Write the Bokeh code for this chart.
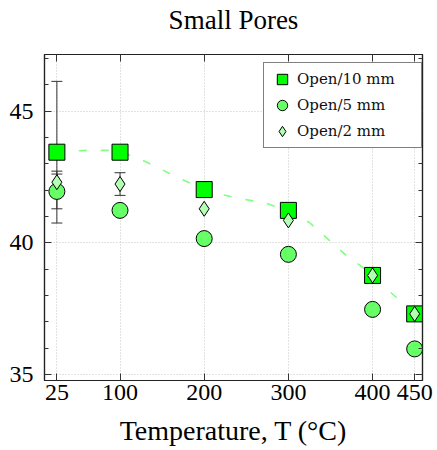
from bokeh.plotting import figure
from bokeh.models import (Range1d, FixedTicker, LinearAxis, Whisker, TeeHead, ColumnDataSource,
                          Legend, LegendItem, CustomJSTickFormatter)
from bokeh.embed import file_html
from bokeh.resources import INLINE

# ---- data ----
temps = [25, 100, 200, 300, 400, 450]
open10 = [43.44, 43.44, 42.02, 41.23, 38.76, 37.30]
open10_err = [2.69, 0, 0, 0, 0, 0]
open5 = [41.95, 41.23, 40.16, 39.56, 37.47, 35.97]
open5_err = [0.66, 0, 0, 0, 0, 0]
open2 = [42.30, 42.23, 41.29, 40.85, 38.76, 37.30]
open2_err = [0.42, 0.43, 0, 0, 0, 0]

# dashed trend curve
trend_T = [25, 60, 91, 117, 142, 166, 189, 218, 246, 273, 300, 325, 348, 368, 391, 412, 433, 450]
trend_y = [43.44, 43.51, 43.51, 43.28, 42.90, 42.52, 42.18, 41.85, 41.66, 41.51, 41.20, 40.77,
           40.11, 39.54, 39.00, 38.38, 37.79, 37.30]

x_ticks = [25, 100, 200, 300, 400, 450]
y_ticks = [35, 40, 45]
y_minor = list(range(35, 48))

series_labels = ["Open/10 mm", "Open/5 mm", "Open/2 mm"]
title_text = "Small Pores"
x_label = "Temperature, T (°C)"

SERIF = "Liberation Serif"

p = figure(width=437, height=450, output_backend="svg", toolbar_location=None,
           x_range=Range1d(10.3, 459.3), y_range=Range1d(34.77, 47.15),
           min_border_left=44, min_border_right=15, min_border_top=54, min_border_bottom=70,
           background_fill_color="white", border_fill_color="white",
           outline_line_color="#222222", outline_line_width=1.2)

p.title.text = title_text
p.title.align = "center"
p.title.text_font = SERIF
p.title.text_font_size = "27px"
p.title.text_font_style = "normal"
p.title.text_color = "black"
p.title.standoff = 0

# grids
for g in (p.xgrid, p.ygrid):
    g.grid_line_color = "#c4c4c4"
    g.grid_line_dash = "1 2"
    g.grid_line_width = 1

# bottom / left axes
xa = p.xaxis[0]
xa.ticker = FixedTicker(ticks=x_ticks, minor_ticks=[])
ya = p.yaxis[0]
ya.ticker = FixedTicker(ticks=y_ticks, minor_ticks=y_minor)

def style_axis(ax, labels=True):
    ax.axis_line_color = "#222222"
    ax.axis_line_width = 1.2
    ax.major_tick_in = 7
    ax.major_tick_out = 0
    ax.minor_tick_in = 4
    ax.minor_tick_out = 0
    ax.major_tick_line_color = "#333333"
    ax.minor_tick_line_color = "#333333"
    if labels:
        ax.major_label_text_font = SERIF
        ax.major_label_text_font_size = "24px"
        ax.major_label_text_color = "black"

style_axis(xa)
style_axis(ya)
xa.major_label_standoff = 4
ya.major_label_standoff = 11

xa.axis_label = x_label
xa.axis_label_text_font = SERIF
xa.axis_label_text_font_size = "28px"
xa.axis_label_text_font_style = "normal"
xa.axis_label_text_color = "black"
xa.axis_label_standoff = 12

# mirrored axes (top / right) with ticks only
top = LinearAxis(ticker=FixedTicker(ticks=x_ticks, minor_ticks=[]),
                 formatter=CustomJSTickFormatter(code="return ''"))
right = LinearAxis(ticker=FixedTicker(ticks=y_ticks, minor_ticks=y_minor),
                   formatter=CustomJSTickFormatter(code="return ''"))
for ax in (top, right):
    style_axis(ax, labels=False)
    ax.major_label_text_font_size = "1px"
    ax.major_label_standoff = 0
# blank spacer label on the top axis pushes the title up
top.axis_label = " "
top.axis_label_text_font_size = "1px"
top.axis_label_standoff = 16
p.add_layout(top, "above")
p.add_layout(right, "right")

# trend line
p.line(trend_T, trend_y, line_color="#80ff80", line_width=1.6, line_dash="8 14")

# error bars (only non-zero)
def add_err(xs, ys, es):
    pts = [(x, y, e) for x, y, e in zip(xs, ys, es) if e > 0]
    src = ColumnDataSource(dict(x=[a for a, _, _ in pts],
                                lo=[b - c for _, b, c in pts],
                                hi=[b + c for _, b, c in pts]))
    w = Whisker(source=src, base="x", lower="lo", upper="hi",
                line_color="#333333", line_width=1,
                upper_head=TeeHead(size=11, line_color="#333333", line_width=1),
                lower_head=TeeHead(size=11, line_color="#333333", line_width=1),
                level="underlay")
    p.add_layout(w)

add_err(temps, open10, open10_err)
add_err(temps, open5, open5_err)
add_err(temps, open2, open2_err)

r10 = p.scatter(temps, open10, marker="square", size=16, fill_color="#00ff00",
                line_color="black", line_width=1)
r5 = p.scatter(temps, open5, marker="circle", size=16, fill_color="#66ff66",
               line_color="black", line_width=1)
r2 = p.scatter(temps, open2, marker="diamond", size=15, fill_color="#b3ffb3",
               line_color="black", line_width=1)

legend = Legend(items=[LegendItem(label=series_labels[0], renderers=[r10]),
                       LegendItem(label=series_labels[1], renderers=[r5]),
                       LegendItem(label=series_labels[2], renderers=[r2])],
                location=(219, 232), margin=0, padding=3,
                glyph_width=30, glyph_height=26, spacing=0,
                label_standoff=-8, label_width=121, label_height=26,
                label_text_font="DejaVu Serif", label_text_font_size="15px",
                label_text_color="#111111",
                border_line_color="black", border_line_width=1,
                background_fill_color="white", background_fill_alpha=1)
p.add_layout(legend)

open("out.html", "w").write(file_html(p, INLINE))
